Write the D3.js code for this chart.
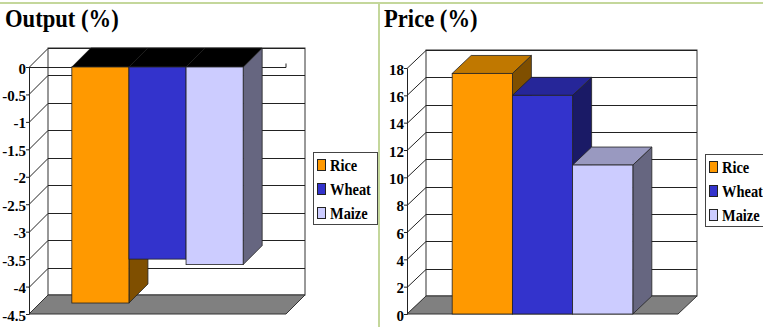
<!DOCTYPE html>
<html>
<head>
<meta charset="utf-8">
<script src="https://cdn.jsdelivr.net/npm/d3@7"></script>
<style>
  body { margin: 0; background: #fff; }
  svg { display: block; }
  text { font-family: "Liberation Serif", "Tinos", "DejaVu Serif", "Times New Roman", serif; font-weight: bold; fill: #000; }
</style>
</head>
<body>
<svg width="763" height="327"></svg>
<script>
// data
var series = ["Rice", "Wheat", "Maize"];
var outputValues = [-4.3, -3.5, -3.6];
var priceValues = [17.6, 16.0, 10.9];
var outputTicks = [0, -0.5, -1, -1.5, -2, -2.5, -3, -3.5, -4, -4.5];
var priceTicks = [0, 2, 4, 6, 8, 10, 12, 14, 16, 18];

// excel-ish 3d shades: front, side, top
var frontColor = ["#ff9900", "#3333cc", "#ccccff"];
var sideColor  = ["#7f4f00", "#1a1a66", "#666680"];
var topColor   = ["#c07800", "#262699", "#9999c0"];

var serif = "'Liberation Serif','Tinos','DejaVu Serif','Times New Roman',serif";

var svg = d3.select("svg");

// pale green frame of the slide
svg.append("rect").attr("x", 0).attr("y", 2).attr("width", 763).attr("height", 2).attr("fill", "#c4d79b");
svg.append("rect").attr("x", 378).attr("y", 2).attr("width", 2).attr("height", 325).attr("fill", "#c4d79b");

// draws one 3d column chart
function chart3d (opt) {
	var g = svg.append("g");
	var dx = opt.dx, dy = opt.dy;
	var x0 = opt.front[0], x1 = opt.front[1];

	var y = d3.scaleLinear().domain(opt.domain).range([opt.bottom, opt.top]);
	var w = x1 - x0;
	var band = d3.scaleBand().domain(series).range([x0 + w / 6, x1 - w / 6]).paddingInner(0);

	// title
	g.append("text")
		.attr("transform", "translate(" + opt.titleX + ",27) scale(0.87,1)")
		.style("font-family", serif)
		.style("font-size", "26px")
		.text(opt.title);

	var yb = opt.bottom, yt = opt.top;

	// back wall
	g.append("rect")
		.attr("x", x0 + dx).attr("y", yt - dy)
		.attr("width", w).attr("height", yb - yt)
		.attr("fill", "#fff").attr("stroke", "#333").attr("stroke-width", 1);

	// grid on back wall + left wall diagonals
	opt.ticks.forEach(function (t) {
		var yy = Math.round(y(t)) + 0.5;
		g.append("line")
			.attr("x1", x0 + dx).attr("x2", x1 + dx)
			.attr("y1", yy - dy).attr("y2", yy - dy)
			.attr("stroke", "#222").attr("stroke-width", 1);
		g.append("line")
			.attr("x1", x0).attr("x2", x0 + dx)
			.attr("y1", yy).attr("y2", yy - dy)
			.attr("stroke", "#222").attr("stroke-width", 1);
	});

	// floor
	g.append("polygon")
		.attr("points", [[x0, yb], [x1, yb], [x1 + dx, yb - dy], [x0 + dx, yb - dy]].join(" "))
		.attr("fill", "#808080").attr("stroke", "#333").attr("stroke-width", 1);

	// category axis line at zero, when zero is not the floor
	if (y(0) !== yb) {
		var yz = Math.round(y(0)) + 0.5;
		g.append("line").attr("x1", x0).attr("x2", x1).attr("y1", yz).attr("y2", yz)
			.attr("stroke", "#222");
		g.append("line").attr("x1", x1).attr("x2", x1).attr("y1", yz).attr("y2", yz - 4)
			.attr("stroke", "#222");
	}

	// bars, left to right so each front face covers the previous side face
	opt.values.forEach(function (v, i) {
		var bx0 = band(series[i]), bx1 = bx0 + band.bandwidth();
		var yv = y(v), y0 = y(0);
		var ytop = Math.min(yv, y0), ybot = Math.max(yv, y0);

		g.append("polygon")
			.attr("points", [[bx1, ytop], [bx1 + dx, ytop - dy], [bx1 + dx, ybot - dy], [bx1, ybot]].join(" "))
			.attr("fill", sideColor[i]).attr("stroke", "#222").attr("stroke-width", 0.8);
		g.append("polygon")
			.attr("points", [[bx0, ytop], [bx0 + dx, ytop - dy], [bx1 + dx, ytop - dy], [bx1, ytop]].join(" "))
			.attr("fill", v < 0 ? "#000" : topColor[i]).attr("stroke", "#222").attr("stroke-width", 0.8);
		g.append("rect")
			.attr("x", bx0).attr("y", ytop)
			.attr("width", bx1 - bx0).attr("height", ybot - ytop)
			.attr("fill", frontColor[i]).attr("stroke", "#222").attr("stroke-width", 0.8);
	});

	// value axis on the front left edge
	var axis = d3.axisLeft(y).tickValues(opt.ticks).tickSize(3).tickSizeOuter(0)
		.tickFormat(function (d) { return String(d); });
	var ag = g.append("g").attr("transform", "translate(" + x0 + ",0)").call(axis)
		.attr("font-family", null);
	ag.select(".domain").attr("stroke", "#222");
	ag.selectAll(".tick line").attr("stroke", "#222");
	ag.selectAll(".tick text")
		.attr("x", -3).attr("dy", "0.4em")
		.style("font-family", serif)
		.style("font-weight", "bold")
		.style("font-size", "15px")
		.attr("fill", "#000");

	// legend
	var lg = g.append("g").attr("transform", "translate(" + opt.legendX + "," + opt.legendY + ")");
	lg.append("rect").attr("x", 0.5).attr("y", 0.5).attr("width", 64).attr("height", 72)
		.attr("fill", "#fff").attr("stroke", "#444");
	series.forEach(function (s, i) {
		lg.append("rect")
			.attr("x", 4.5).attr("y", 7.5 + i * 24).attr("width", 8).attr("height", 11)
			.attr("fill", frontColor[i]).attr("stroke", "#222");
		lg.append("text")
			.attr("transform", "translate(17," + (19 + i * 24) + ") scale(0.85,1)")
			.style("font-family", serif)
			.style("font-size", "17px")
			.text(s);
	});
}

chart3d({
	title: "Output (%)", titleX: 5,
	values: outputValues, ticks: outputTicks,
	domain: [-4.5, 0], front: [29, 286], bottom: 314, top: 67,
	dx: 19, dy: 19, legendX: 313, legendY: 152
});

chart3d({
	title: "Price (%)", titleX: 384,
	values: priceValues, ticks: priceTicks,
	domain: [0, 18], front: [407, 678], bottom: 314, top: 68,
	dx: 19, dy: 18, legendX: 705, legendY: 154
});
</script>
</body>
</html>
